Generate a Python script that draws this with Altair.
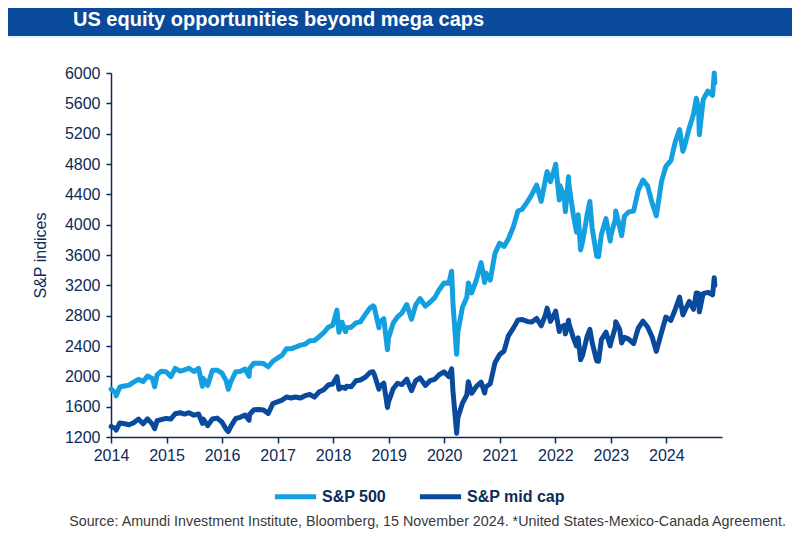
import altair as alt
import pandas as pd

title_text = "US equity opportunities beyond mega caps"
source_text = "Source: Amundi Investment Institute, Bloomberg, 15 November 2024. *United States-Mexico-Canada Agreement."
series_names = ["S&P 500", "S&P mid cap"]
series_colors = ["#14a0e0", "#0a4a9c"]
year_ticks = [str(y) for y in range(2014, 2025)]
y_ticks = list(range(1200, 6001, 400))

dates = [
    "2014-01-02","2014-01-31","2014-02-04","2014-02-28","2014-03-31","2014-04-30","2014-05-30","2014-06-30",
    "2014-07-31","2014-08-29","2014-09-30","2014-10-15","2014-10-31","2014-11-28","2014-12-31",
    "2015-01-30","2015-02-27","2015-03-31","2015-04-30","2015-05-29","2015-06-30","2015-07-31","2015-08-25",
    "2015-08-31","2015-09-29","2015-10-30","2015-11-30","2015-12-31",
    "2016-01-29","2016-02-11","2016-02-29","2016-03-31","2016-04-29","2016-05-31","2016-06-27","2016-06-30",
    "2016-07-29","2016-08-31","2016-09-30","2016-10-31","2016-11-30","2016-12-30",
    "2017-01-31","2017-02-28","2017-03-31","2017-04-28","2017-05-31","2017-06-30","2017-07-31","2017-08-31",
    "2017-09-29","2017-10-31","2017-11-30","2017-12-29",
    "2018-01-26","2018-02-08","2018-02-28","2018-03-23","2018-03-30","2018-04-30","2018-05-31","2018-06-29",
    "2018-07-31","2018-08-31","2018-09-20","2018-09-28","2018-10-29","2018-10-31","2018-11-30","2018-12-24",
    "2018-12-31",
    "2019-01-31","2019-02-28","2019-03-29","2019-04-30","2019-05-31","2019-06-28","2019-07-26","2019-08-30",
    "2019-09-30","2019-10-31","2019-11-29","2019-12-31",
    "2020-01-31","2020-02-19","2020-02-28","2020-03-23","2020-03-31","2020-04-30","2020-05-29","2020-06-08",
    "2020-06-30","2020-07-31","2020-08-31","2020-09-23","2020-09-30","2020-10-30","2020-11-30","2020-12-31",
    "2021-01-29","2021-02-26","2021-03-31","2021-04-30","2021-05-28","2021-06-30","2021-07-30","2021-08-31",
    "2021-09-30","2021-10-29","2021-11-08","2021-11-30","2021-12-31",
    "2022-01-03","2022-01-27","2022-01-31","2022-02-28","2022-03-08","2022-03-29","2022-03-31","2022-04-29",
    "2022-05-20","2022-05-31","2022-06-16","2022-06-30","2022-07-29","2022-08-16","2022-08-31","2022-09-30",
    "2022-10-12","2022-10-31","2022-11-30","2022-12-28","2022-12-30",
    "2023-01-31","2023-02-02","2023-02-28","2023-03-13","2023-03-31","2023-04-28","2023-05-31","2023-06-30",
    "2023-07-31","2023-08-31","2023-09-29","2023-10-27","2023-11-30","2023-12-29",
    "2024-01-31","2024-02-29","2024-03-28","2024-04-19","2024-04-30","2024-05-31","2024-06-28","2024-07-16",
    "2024-07-31","2024-08-05","2024-08-30","2024-09-30","2024-10-31","2024-11-11","2024-11-15",
]

sp500 = [
    1832,1783,1742,1859,1872,1884,1924,1960,
    1931,2003,1972,1862,2018,2068,2059,
    1995,2105,2068,2086,2107,2063,2104,1868,
    1972,1882,2079,2080,2044,
    1940,1829,1932,2060,2065,2097,2000,2099,
    2174,2171,2168,2126,2199,2239,
    2279,2364,2363,2384,2412,2423,2470,2472,
    2519,2575,2648,2674,
    2873,2581,2714,2588,2641,2648,2705,2718,
    2816,2902,2931,2914,2641,2712,2760,2351,
    2507,
    2704,2784,2834,2946,2752,2942,3026,2926,
    2977,3038,3141,3231,
    3226,3386,2954,2290,2585,2912,3044,3232,
    3100,3271,3500,3237,3363,3270,3622,3756,
    3714,3811,3973,4181,4204,4298,4395,4523,
    4308,4605,4700,4567,4766,
    4796,4326,4516,4374,4170,4632,4530,4132,
    3901,4132,3667,3785,4130,4305,3955,3586,
    3577,3872,4080,3783,3840,
    4077,4180,3970,3855,4109,4169,4180,4450,
    4589,4508,4288,4117,4568,4770,
    4846,5096,5254,4967,5036,5278,5460,5667,
    5522,5186,5648,5762,5705,6001,5870,
]

midcap = [
    1340,1312,1290,1386,1375,1361,1387,1436,
    1374,1439,1369,1310,1414,1430,1445,
    1438,1507,1520,1502,1521,1488,1503,1380,
    1436,1350,1438,1449,1398,
    1301,1270,1344,1444,1459,1490,1420,1497,
    1560,1564,1556,1510,1640,1663,
    1687,1728,1714,1727,1714,1745,1761,1726,
    1792,1823,1885,1899,
    1995,1830,1857,1840,1868,1863,1942,1952,
    1988,2050,2060,2027,1830,1859,1909,1590,
    1663,
    1837,1908,1891,1962,1811,1945,1980,1881,
    1942,1961,2021,2059,
    1998,2100,1802,1250,1455,1645,1756,1930,
    1777,1867,1924,1780,1860,1902,2180,2289,
    2335,2534,2636,2743,2750,2724,2715,2763,
    2667,2817,2900,2724,2843,
    2860,2590,2640,2673,2560,2740,2698,2511,
    2400,2507,2220,2281,2526,2620,2449,2202,
    2200,2484,2582,2400,2430,
    2652,2720,2620,2440,2515,2491,2431,2634,
    2727,2650,2522,2330,2578,2782,
    2737,2885,3045,2810,2859,2988,2884,3100,
    3092,2850,3091,3108,3074,3300,3200,
]

FONT = "Liberation Sans"
NAVY = "#0d2b57"

W, H = 611, 364
PL, PT, PR, PB = 103, 65, 70, 99

df = pd.DataFrame({
    "date": dates * 2,
    "value": sp500 + midcap,
    "series": [series_names[0]] * len(dates) + [series_names[1]] * len(dates),
})

lines = alt.Chart(df).mark_line(strokeWidth=5, strokeJoin="round", strokeCap="round").encode(
    x=alt.X("date:T",
            scale=alt.Scale(domain=["2014-01-01", "2025-01-01"]),
            axis=alt.Axis(title=None, values=[f"{y}-01-01" for y in year_ticks], format="%Y",
                          labelPadding=4, tickSize=6, labelFlush=False, labelOverlap=False)),
    y=alt.Y("value:Q",
            scale=alt.Scale(domain=[1200, 6000], nice=False, zero=False),
            axis=alt.Axis(title="S&P indices", values=y_ticks, format="d", tickSize=5, labelPadding=6,
                          titlePadding=16, titleFontWeight="normal", titleFontSize=16,
                          titleColor=NAVY, titleFont=FONT, labelFlush=False)),
    color=alt.Color("series:N",
                    scale=alt.Scale(domain=series_names, range=series_colors),
                    legend=alt.Legend(title=None, orient="none", legendX=161, legendY=400,
                                      direction="horizontal", symbolType="stroke",
                                      symbolStrokeWidth=5, symbolSize=1700,
                                      labelFontSize=16, labelFontWeight="bold",
                                      labelColor=NAVY, labelFont=FONT,
                                      columnPadding=22, labelOffset=3)),
    order=alt.Order("date:T"),
)

banner_df = pd.DataFrame({"t": [title_text]})
banner = alt.Chart(banner_df).mark_rect(color="#0a4a9a").encode(
    x=alt.value(-PL), x2=alt.value(W + PR), y=alt.value(-PT), y2=alt.value(-37)
)
strip = alt.Chart(banner_df).mark_rect(color="#dff1fb").encode(
    x=alt.value(-PL), x2=alt.value(W + PR), y=alt.value(-37), y2=alt.value(-35)
)
title = alt.Chart(banner_df).mark_text(
    align="left", baseline="middle", font=FONT, fontSize=20, fontWeight="bold", color="white"
).encode(x=alt.value(-38), y=alt.value(-53), text="t:N")

source = alt.Chart(pd.DataFrame({"s": [source_text]})).mark_text(
    align="right", baseline="middle", font=FONT, fontSize=14.3, color="#3a3a3a"
).encode(x=alt.value(675), y=alt.value(449), text="s:N")

chart = alt.layer(banner, strip, title, lines, source).properties(
    width=W, height=H,
    padding={"left": PL, "top": PT, "right": PR, "bottom": PB},
    autosize=alt.AutoSizeParams(type="none"),
).configure_view(stroke=None).configure_axis(
    grid=False, domainColor=NAVY, domainWidth=1.5, tickColor=NAVY, tickWidth=1.5,
    labelColor=NAVY, labelFont=FONT, labelFontSize=16,
)

chart.save("out.html", embed_options={"renderer": "svg", "actions": False})
